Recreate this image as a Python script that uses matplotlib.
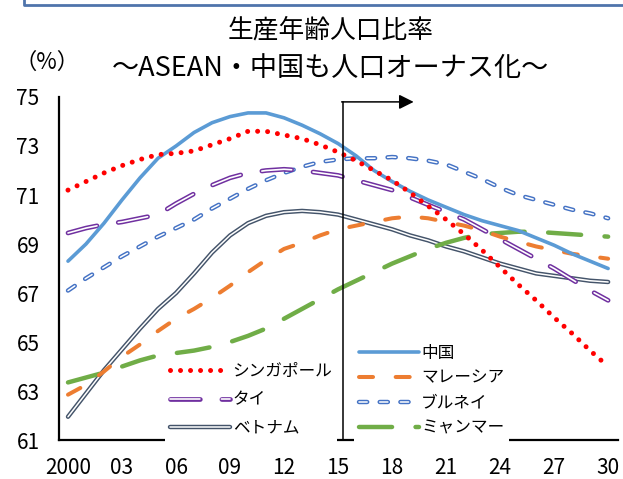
import matplotlib
matplotlib.use('Agg')
import matplotlib.pyplot as plt
from matplotlib.lines import Line2D
from matplotlib.legend_handler import HandlerTuple

plt.rcParams['font.family'] = ['Noto Sans CJK JP', 'DejaVu Sans']
plt.rcParams['lines.scale_dashes'] = False

years = list(range(2000, 2031))

china = [68.3, 69.0, 69.85, 70.8, 71.7, 72.5, 73.0, 73.55, 73.95, 74.2, 74.35,
         74.35, 74.15, 73.85, 73.5, 73.1, 72.6, 72.0, 71.55, 71.15, 70.8,
         70.5, 70.2, 69.95, 69.75, 69.55, 69.25, 68.95, 68.6, 68.3, 68.0]
singapore = [71.2, 71.55, 71.9, 72.2, 72.45, 72.65, 72.7, 72.8, 73.05, 73.3, 73.6,
             73.6, 73.45, 73.3, 73.05, 72.75, 72.4, 72.0, 71.6, 71.1, 70.55,
             70.0, 69.4, 68.75, 68.05, 67.35, 66.7, 66.0, 65.35, 64.65, 64.0]
thai = [69.45, 69.65, 69.8, 69.9, 70.05, 70.2, 70.65, 71.05, 71.4, 71.7, 71.9,
        72.0, 72.05, 72.0, 71.9, 71.8, 71.6, 71.4, 71.2, 70.9, 70.6,
        70.3, 70.0, 69.6, 69.2, 68.8, 68.4, 68.0, 67.55, 67.1, 66.7]
brunei = [67.1, 67.6, 68.05, 68.5, 68.9, 69.3, 69.65, 70.0, 70.45, 70.85, 71.25,
          71.6, 71.9, 72.15, 72.35, 72.45, 72.5, 72.5, 72.55, 72.5, 72.4,
          72.25, 71.95, 71.65, 71.3, 71.0, 70.8, 70.6, 70.4, 70.25, 70.05]
vietnam = [61.95, 62.9, 63.85, 64.7, 65.55, 66.35, 67.0, 67.8, 68.65, 69.35, 69.85,
           70.15, 70.3, 70.35, 70.3, 70.2, 70.0, 69.8, 69.6, 69.35, 69.15,
           68.9, 68.7, 68.45, 68.2, 68.0, 67.8, 67.7, 67.6, 67.5, 67.45]
malaysia = [62.85, 63.25, 63.8, 64.4, 64.9, 65.45, 65.95, 66.35, 66.8, 67.3, 67.85,
            68.35, 68.8, 69.05, 69.35, 69.6, 69.75, 69.9, 70.05, 70.12, 70.05,
            69.9, 69.75, 69.55, 69.3, 69.1, 68.9, 68.75, 68.6, 68.5, 68.4]
myanmar = [63.35, 63.55, 63.75, 64.0, 64.25, 64.45, 64.55, 64.65, 64.8, 65.0, 65.25,
           65.55, 65.95, 66.35, 66.75, 67.15, 67.5, 67.85, 68.2, 68.5, 68.8,
           69.05, 69.25, 69.4, 69.45, 69.5, 69.5, 69.45, 69.4, 69.35, 69.3]

xtick_pos = [2000, 2003, 2006, 2009, 2012, 2015, 2018, 2021, 2024, 2027, 2030]
xtick_labels = ['2000', '03', '06', '09', '12', '15', '18', '21', '24', '27', '30']
yticks = [61, 63, 65, 67, 69, 71, 73, 75]

fig = plt.figure(figsize=(6.23, 4.79), dpi=100)
ax = fig.add_axes([0.0947, 0.0814, 0.8973, 0.7161])


def double_line(x, y, color, outer, inner, dashes=None):
    kw = dict(solid_capstyle='round', dash_capstyle='round')
    if dashes is not None:
        kw['dashes'] = dashes
    l1, = ax.plot(x, y, color=color, lw=outer, **kw)
    l2, = ax.plot(x, y, color='white', lw=inner, **kw)
    return (l1, l2)


h_vn = double_line(years, vietnam, '#44546A', 3.2, 1.1)
h_br = double_line(years, brunei, '#4472C4', 3.2, 1.1, dashes=(5.9, 9.0))
h_th = double_line(years, thai, '#7030A0', 3.4, 1.2, dashes=(21.5, 15.5))
h_my, = ax.plot(years, myanmar, color='#70AD47', lw=3.2, dashes=(23.8, 16.9),
                dash_capstyle='round')
h_ml, = ax.plot(years, malaysia, color='#ED7D31', lw=2.9, dashes=(10.1, 16.3),
                dash_capstyle='round')
h_cn, = ax.plot(years, china, color='#5B9BD5', lw=2.6, solid_capstyle='round')
h_sg, = ax.plot(years, singapore, color='#FF0000', lw=3.6, dashes=(0.01, 7.2),
                dash_capstyle='round')

# 2015年以降（予測）の矢印
ax.plot([2015.25, 2015.25], [61, 74.8], color='black', lw=1.1)
ax.annotate('', xy=(2019.2, 74.8), xytext=(2015.2, 74.8),
            arrowprops=dict(arrowstyle='-|>', color='black', lw=1.1,
                            mutation_scale=22, shrinkA=0, shrinkB=0))

ax.set_xlim(1999.5, 2030.55)
ax.set_ylim(61, 75)
ax.set_xticks(xtick_pos)
ax.set_xticklabels(xtick_labels)
ax.set_yticks(yticks)
ax.tick_params(length=0, labelsize=15, pad=12)
ax.tick_params(axis='y', pad=14)
for s in ['top', 'right']:
    ax.spines[s].set_visible(False)
for s in ['left', 'bottom']:
    ax.spines[s].set_linewidth(1.6)

hm = {tuple: HandlerTuple(ndivide=1, pad=0)}
leg1 = ax.legend([h_sg, h_th, h_vn], ['シンガポール', 'タイ', 'ベトナム'],
                 handler_map=hm, loc='lower left', bbox_to_anchor=(0.19, -0.005),
                 frameon=True, fancybox=False, edgecolor='none', facecolor='white',
                 framealpha=1, fontsize=12, handlelength=3.6, handletextpad=0.15,
                 labelspacing=0.68, borderpad=0.3, borderaxespad=0.0)
ax.add_artist(leg1)
ax.legend([h_cn, h_ml, h_br, h_my], ['中国', 'マレーシア', 'ブルネイ', 'ミャンマー'],
          handler_map=hm, loc='lower left', bbox_to_anchor=(0.527, -0.005),
          frameon=True, fancybox=False, edgecolor='none', facecolor='white',
          framealpha=1, fontsize=12, handlelength=3.6, handletextpad=0.15,
          labelspacing=0.48, borderpad=0.3, borderaxespad=0.0)

# タイトル
fig.text(0.531, 0.937, '生産年齢人口比率', ha='center', va='center', fontsize=18.5)
fig.text(0.531, 0.858, '～ASEAN・中国も人口オーナス化～', ha='center', va='center',
         fontsize=19.5)
fig.text(0.076, 0.870, '（%）', ha='center', va='center', fontsize=16)

# 上部の枠線
fig.add_artist(Line2D([24 / 623, 24 / 623, 1.0], [1.0, 1 - 5 / 479, 1 - 5 / 479],
                      transform=fig.transFigure, color='#4F74AB', lw=2))

fig.savefig('out.png', dpi=100, facecolor='white')
